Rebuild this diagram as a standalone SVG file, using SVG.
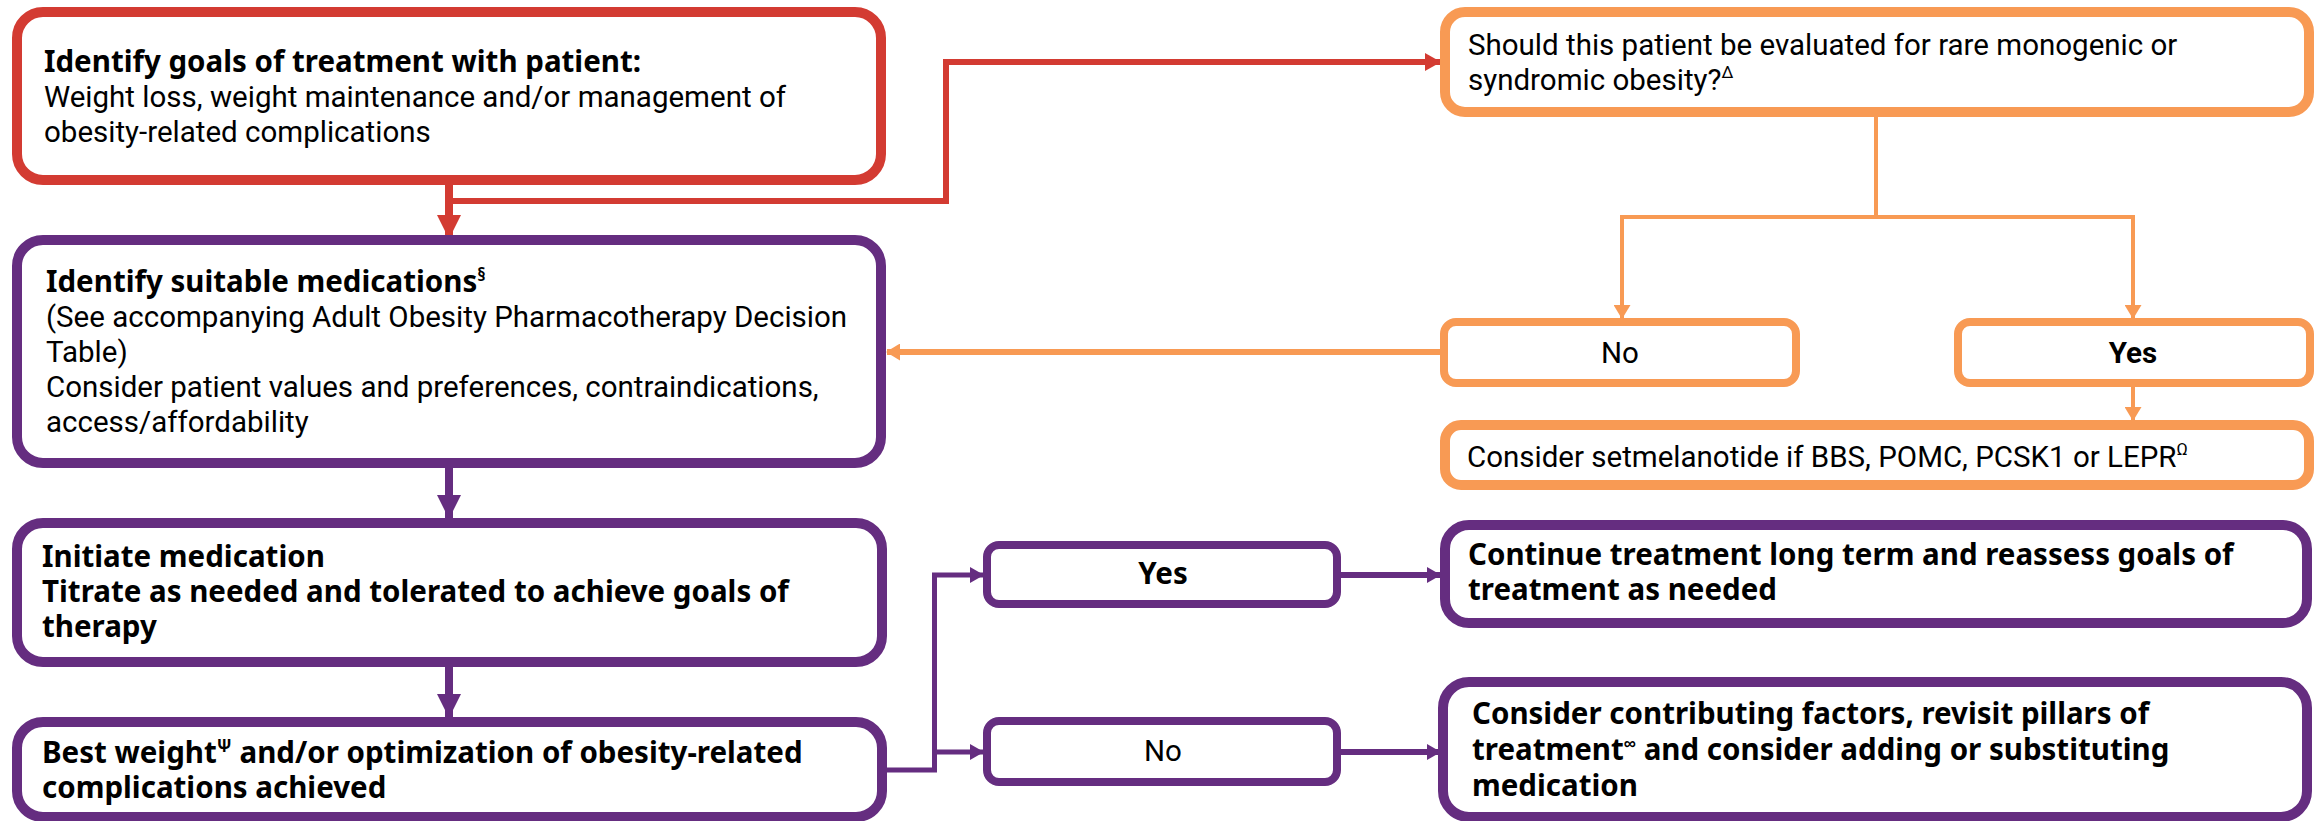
<svg xmlns="http://www.w3.org/2000/svg" width="2320" height="821" viewBox="0 0 2320 821">
<style>
.bg{fill:#ffffff}
.box{fill:#ffffff}
.red{stroke:#D33B32}
.pur{stroke:#652D80}
.org{stroke:#F89A54}
.b10{stroke-width:10}
.b8{stroke-width:8}
.reg{font-family:Roboto,"Liberation Sans",sans-serif;font-size:29.5px;fill:#000}
.bold{font-family:"Noto Sans","Liberation Sans",sans-serif;font-weight:700;font-size:29.5px;fill:#000}
.rbold{font-family:Roboto,"Liberation Sans",sans-serif;font-weight:700;font-size:29.5px;fill:#000}
.sup{font-size:17px}
.conn{fill:none}
</style>
<defs>
<marker id="arR" markerUnits="userSpaceOnUse" markerWidth="24" markerHeight="24" refX="23" refY="12" orient="auto" viewBox="0 0 24 24"><path d="M0,0 L24,12 L0,24z" fill="#D33B32"/></marker>
<marker id="arRs" markerUnits="userSpaceOnUse" markerWidth="16" markerHeight="18" refX="15" refY="9" orient="auto" viewBox="0 0 16 18"><path d="M0,0 L16,9 L0,18z" fill="#D33B32"/></marker>
<marker id="arP" markerUnits="userSpaceOnUse" markerWidth="24" markerHeight="24" refX="23" refY="12" orient="auto" viewBox="0 0 24 24"><path d="M0,0 L24,12 L0,24z" fill="#652D80"/></marker>
<marker id="arPs" markerUnits="userSpaceOnUse" markerWidth="14" markerHeight="16" refX="13" refY="8" orient="auto" viewBox="0 0 14 16"><path d="M0,0 L14,8 L0,16z" fill="#652D80"/></marker>
<marker id="arO" markerUnits="userSpaceOnUse" markerWidth="14" markerHeight="17" refX="13" refY="8.5" orient="auto" viewBox="0 0 14 17"><path d="M0,0 L14,8.5 L0,17z" fill="#F89A54"/></marker>
</defs>
<rect class="bg" x="0" y="0" width="2320" height="821"/>

<g id="connectors" class="conn">
  <path class="red" stroke-width="8" d="M449,185 V238" marker-end="url(#arR)"/>
  <path class="red" stroke-width="6" d="M449,201 H946 V62 H1440" marker-end="url(#arRs)"/>
  <path class="org" stroke-width="4" d="M1876,117 V217"/>
  <path class="org" stroke-width="4" d="M1620,217 H2135"/>
  <path class="org" stroke-width="4" d="M1622,217 V318" marker-end="url(#arO)"/>
  <path class="org" stroke-width="4" d="M2133,217 V318" marker-end="url(#arO)"/>
  <path class="org" stroke-width="4" d="M2133,387 V420" marker-end="url(#arO)"/>
  <path class="org" stroke-width="6" d="M1440,352 H887" marker-end="url(#arO)"/>
  <path class="pur" stroke-width="8" d="M449,468 V518" marker-end="url(#arP)"/>
  <path class="pur" stroke-width="8" d="M449,667 V717" marker-end="url(#arP)"/>
  <path class="pur" stroke-width="5" d="M887,770 H934.5 V575 H983" marker-end="url(#arPs)"/>
  <path class="pur" stroke-width="5" d="M934.5,752 H983" marker-end="url(#arPs)"/>
  <path class="pur" stroke-width="6" d="M1341,575 H1440" marker-end="url(#arPs)"/>
  <path class="pur" stroke-width="6" d="M1341,752 H1440" marker-end="url(#arPs)"/>
</g>

<g id="goals">
  <rect class="box red b10" x="17" y="12" width="864" height="168" rx="26"/>
  <text class="bold" x="44" y="72">Identify goals of treatment with patient:</text>
  <text class="reg" x="44" y="107">Weight loss, weight maintenance and/or management of</text>
  <text class="reg" x="44" y="142">obesity-related complications</text>
</g>

<g id="suitable">
  <rect class="box pur b10" x="17" y="240" width="864" height="223" rx="26"/>
  <text class="bold" x="46" y="292">Identify suitable medications<tspan class="sup" dy="-11">§</tspan></text>
  <text class="reg" x="46" y="327">(See accompanying Adult Obesity Pharmacotherapy Decision</text>
  <text class="reg" x="46" y="362">Table)</text>
  <text class="reg" x="46" y="397">Consider patient values and preferences, contraindications,</text>
  <text class="reg" x="46" y="432">access/affordability</text>
</g>

<g id="initiate">
  <rect class="box pur b10" x="17" y="523" width="865" height="139" rx="26"/>
  <text class="bold" x="42" y="567">Initiate medication</text>
  <text class="bold" x="42" y="602">Titrate as needed and tolerated to achieve goals of</text>
  <text class="bold" x="42" y="637">therapy</text>
</g>

<g id="bestweight">
  <rect class="box pur b10" x="17" y="722" width="865" height="95" rx="26"/>
  <text class="bold" x="42" y="763">Best weight<tspan class="sup" dy="-11">Ψ</tspan><tspan dy="11"> and/or optimization of obesity-related</tspan></text>
  <text class="bold" x="42" y="798">complications achieved</text>
</g>

<g id="question">
  <rect class="box org b10" x="1445" y="12" width="864" height="100" rx="20"/>
  <text class="reg" x="1468" y="55">Should this patient be evaluated for rare monogenic or</text>
  <text class="reg" x="1468" y="90">syndromic obesity?<tspan class="sup" dy="-12">Δ</tspan></text>
</g>

<g id="no-orange">
  <rect class="box org b8" x="1444" y="322" width="352" height="61" rx="12"/>
  <text class="reg" x="1620" y="363" text-anchor="middle">No</text>
</g>

<g id="yes-orange">
  <rect class="box org b8" x="1958" y="322" width="352" height="61" rx="12"/>
  <text class="rbold" x="2133" y="363" text-anchor="middle">Yes</text>
</g>

<g id="setmelanotide">
  <rect class="box org b10" x="1445" y="425" width="864" height="60" rx="16"/>
  <text class="reg" x="1467" y="467">Consider setmelanotide if BBS, POMC, PCSK1 or LEPR<tspan class="sup" dy="-12">Ω</tspan></text>
</g>

<g id="yes-purple">
  <rect class="box pur b8" x="987" y="545" width="350" height="59" rx="12"/>
  <text class="bold" x="1163" y="584" text-anchor="middle">Yes</text>
</g>

<g id="no-purple">
  <rect class="box pur b8" x="987" y="721" width="350" height="61" rx="12"/>
  <text class="reg" x="1163" y="761" text-anchor="middle">No</text>
</g>

<g id="continue">
  <rect class="box pur b10" x="1445" y="525" width="862" height="98" rx="24"/>
  <text class="bold" x="1468" y="565">Continue treatment long term and reassess goals of</text>
  <text class="bold" x="1468" y="600">treatment as needed</text>
</g>

<g id="consider">
  <rect class="box pur b10" x="1443" y="682" width="864" height="135" rx="26"/>
  <text class="bold" x="1472" y="724">Consider contributing factors, revisit pillars of</text>
  <text class="bold" x="1472" y="760">treatment<tspan class="sup" dy="-11">∞</tspan><tspan dy="11"> and consider adding or substituting</tspan></text>
  <text class="bold" x="1472" y="796">medication</text>
</g>
</svg>
